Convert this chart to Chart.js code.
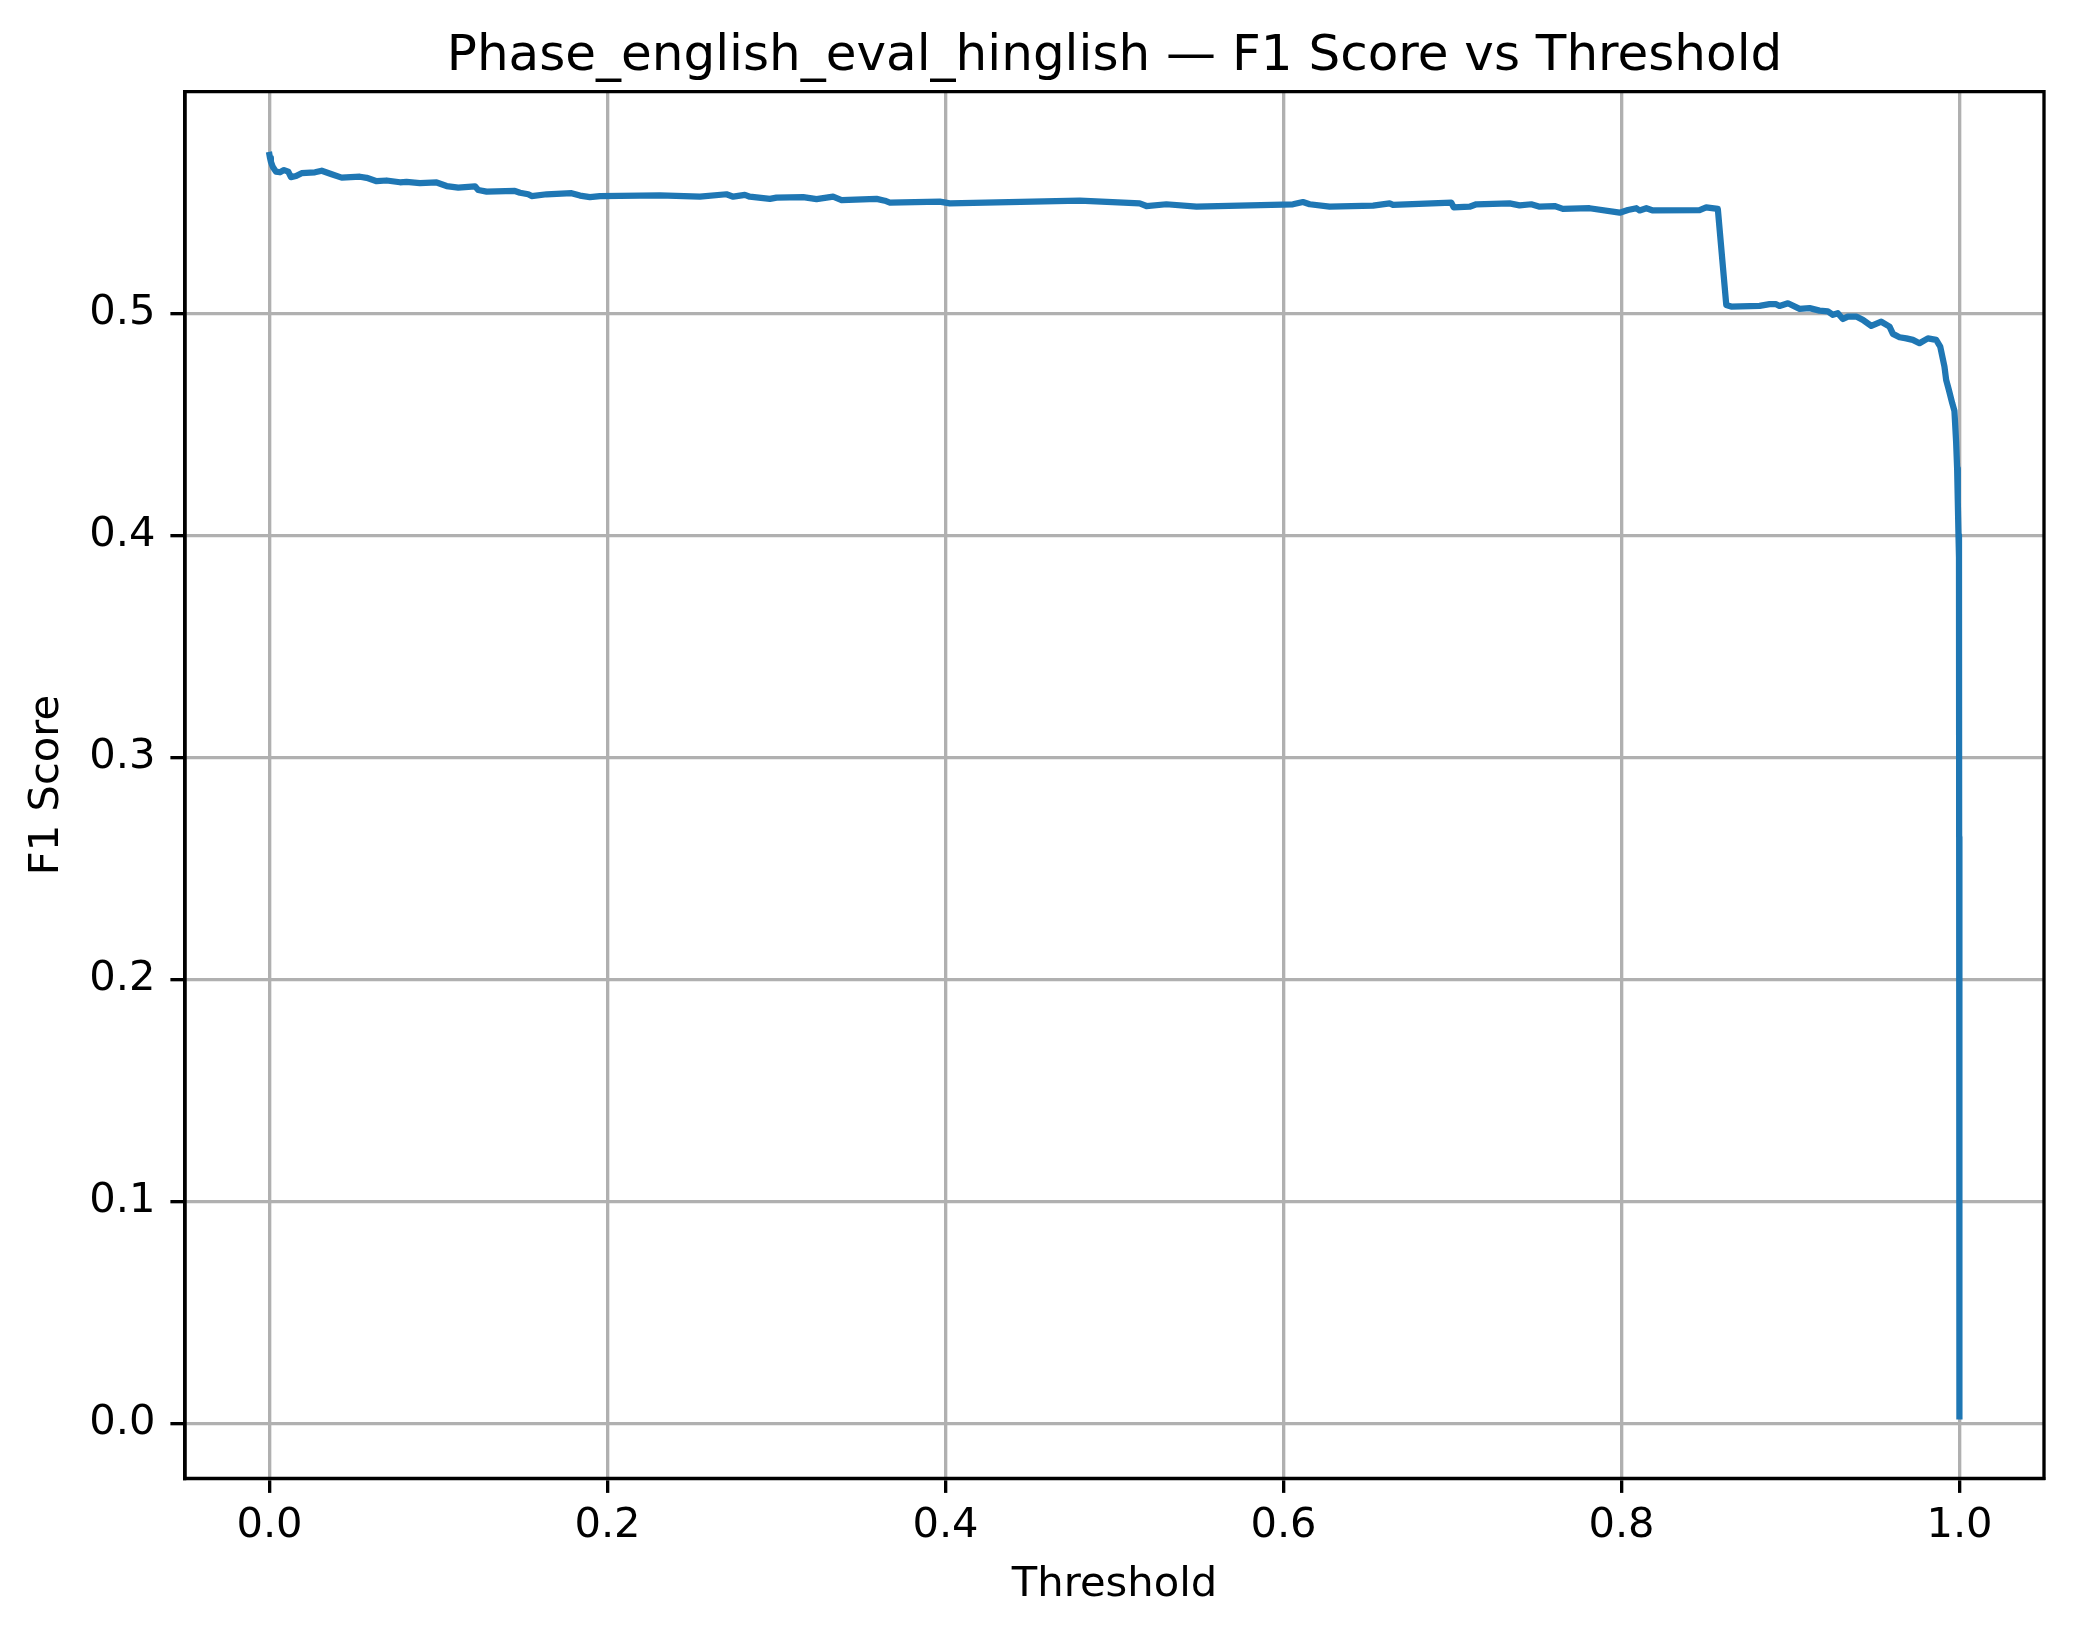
<!DOCTYPE html>
<html>
<head>
<meta charset="utf-8">
<script src="https://cdn.jsdelivr.net/npm/chart.js@4.4.1/dist/chart.umd.min.js"></script>
<style>
  html, body { margin: 0; padding: 0; background: #ffffff; }
  canvas { display: block; }
</style>
</head>
<body>
<canvas id="c" width="2074" height="1638"></canvas>
<script>
const TITLE = "Phase_english_eval_hinglish \u2014 F1 Score vs Threshold";
const X_LABEL = "Threshold";
const Y_LABEL = "F1 Score";
const X_TICKS = [0.0, 0.2, 0.4, 0.6, 0.8, 1.0];
const Y_TICKS = [0.0, 0.1, 0.2, 0.3, 0.4, 0.5];

const thresholds = [
  0.0, 0.0003, 0.0008, 0.0019, 0.0038, 0.0062, 0.0086, 0.0111, 0.0127, 0.0157,
  0.0190, 0.0269, 0.0309, 0.0368, 0.0427, 0.0535, 0.0575, 0.0634, 0.0693, 0.0772,
  0.0811, 0.0890, 0.0989, 0.1048, 0.1117, 0.1216, 0.1235, 0.1285, 0.1452, 0.1482,
  0.1531, 0.1551, 0.1640, 0.1787, 0.1837, 0.1896, 0.1955, 0.2310, 0.2547, 0.2704,
  0.2744, 0.2813, 0.2842, 0.2961, 0.3000, 0.3158, 0.3237, 0.3335, 0.3385, 0.3592,
  0.3641, 0.3671, 0.3966, 0.4025, 0.4794, 0.5149, 0.5189, 0.5307, 0.5485, 0.6056,
  0.6115, 0.6155, 0.6273, 0.6530, 0.6628, 0.6648, 0.6993, 0.7007, 0.7101, 0.7141,
  0.7338, 0.7397, 0.7466, 0.7516, 0.7604, 0.7653, 0.7811, 0.7989, 0.8038, 0.8088,
  0.8107, 0.8147, 0.8186, 0.8462, 0.8501, 0.8570, 0.8620, 0.8649, 0.8817, 0.8876,
  0.8915, 0.8935, 0.8985, 0.9054, 0.9113, 0.9172, 0.9221, 0.9251, 0.9280, 0.9310,
  0.9339, 0.9389, 0.9428, 0.9478, 0.9537, 0.9586, 0.9606, 0.9645, 0.9685, 0.9724,
  0.9763, 0.9813, 0.9862, 0.9886, 0.9911, 0.9921, 0.9937, 0.9957, 0.9970, 0.9980,
  0.9986, 0.9990, 0.9994, 0.9997, 0.9998, 0.9999, 1.0
];
const f1Scores = [
  0.5713, 0.5700, 0.5683, 0.5660, 0.5638, 0.5635, 0.5645, 0.5638, 0.5613, 0.5618,
  0.5631, 0.5635, 0.5642, 0.5626, 0.5611, 0.5615, 0.5610, 0.5595, 0.5598, 0.5590,
  0.5592, 0.5586, 0.5589, 0.5573, 0.5566, 0.5572, 0.5555, 0.5548, 0.5551, 0.5543,
  0.5536, 0.5528, 0.5536, 0.5541, 0.5530, 0.5523, 0.5528, 0.5531, 0.5525, 0.5536,
  0.5525, 0.5533, 0.5525, 0.5515, 0.5521, 0.5523, 0.5514, 0.5525, 0.5510, 0.5515,
  0.5507, 0.5498, 0.5503, 0.5495, 0.5507, 0.5495, 0.5483, 0.5491, 0.5480, 0.5491,
  0.5501, 0.5491, 0.5480, 0.5485, 0.5495, 0.5488, 0.5498, 0.5477, 0.5480, 0.5491,
  0.5495, 0.5486, 0.5491, 0.5480, 0.5483, 0.5470, 0.5473, 0.5453, 0.5465, 0.5473,
  0.5463, 0.5473, 0.5463, 0.5465, 0.5477, 0.5470, 0.5037, 0.5030, 0.5033, 0.5041,
  0.5041, 0.5033, 0.5045, 0.5020, 0.5023, 0.5012, 0.5008, 0.4993, 0.5000, 0.4974,
  0.4985, 0.4985, 0.4970, 0.4943, 0.4962, 0.4940, 0.4907, 0.4892, 0.4887, 0.4880,
  0.4865, 0.4887, 0.4880, 0.4850, 0.4760, 0.4700, 0.4655, 0.4595, 0.4560, 0.4420,
  0.4300, 0.4150, 0.4000, 0.3900, 0.2640, 0.1000, 0.0031
];

const points = thresholds.map((t, i) => ({ x: t, y: f1Scores[i] }));

const FONT = "'DejaVu Sans', 'Liberation Sans', sans-serif";
const LW = 3.33;

const frame = {
  id: 'frame',
  afterDatasetsDraw(chart) {
    const { ctx, chartArea: a } = chart;
    ctx.save();
    ctx.strokeStyle = '#000000';
    ctx.lineWidth = LW;
    ctx.lineCap = 'square';
    ctx.beginPath();
    ctx.moveTo(a.left, a.bottom);
    ctx.lineTo(a.left, a.top);
    ctx.lineTo(a.right, a.top);
    ctx.lineTo(a.right, a.bottom);
    ctx.lineTo(a.left, a.bottom);
    ctx.stroke();
    ctx.restore();
  }
};

new Chart(document.getElementById('c'), {
  type: 'line',
  data: {
    datasets: [{
      label: 'F1',
      data: points,
      borderColor: '#1f77b4',
      borderWidth: 6.25,
      pointRadius: 0,
      tension: 0,
      fill: false,
      borderJoinStyle: 'round',
      borderCapStyle: 'square'
    }]
  },
  options: {
    responsive: false,
    devicePixelRatio: 1,
    animation: false,
    layout: { padding: { left: 0, right: 30, top: 0, bottom: 0 } },
    plugins: {
      legend: { display: false },
      tooltip: { enabled: false },
      title: {
        display: true,
        fullSize: false,
        text: TITLE,
        color: '#000000',
        font: { family: FONT, size: 50, weight: 'normal', lineHeight: 1.2 },
        padding: { top: 27, bottom: 4.7 }
      }
    },
    scales: {
      x: {
        type: 'linear',
        min: -0.05,
        max: 1.05,
        afterBuildTicks(scale) { scale.ticks = X_TICKS.map(v => ({ value: v })); },
        afterFit(scale) { scale.height = 159.7; },
        ticks: {
          color: '#000000',
          font: { family: FONT, size: 41.67, lineHeight: 1.2 },
          padding: 8,
          maxRotation: 0,
          autoSkip: false,
          callback: v => v.toFixed(1)
        },
        grid: { color: '#b0b0b0', lineWidth: LW, tickColor: '#000000', tickWidth: LW, tickLength: 14.6 },
        border: { display: true, color: '#000000', width: LW },
        title: {
          display: true,
          text: X_LABEL,
          color: '#000000',
          font: { family: FONT, size: 41.67, lineHeight: 1.2 },
          padding: { top: 0, bottom: 27.4 }
        }
      },
      y: {
        type: 'linear',
        min: -0.0248,
        max: 0.5998,
        afterBuildTicks(scale) { scale.ticks = Y_TICKS.map(v => ({ value: v })); },
        afterFit(scale) { scale.width = 185; },
        ticks: {
          color: '#000000',
          font: { family: FONT, size: 41.67, lineHeight: 1.2 },
          padding: 15,
          autoSkip: false,
          callback: v => v.toFixed(1)
        },
        grid: { color: '#b0b0b0', lineWidth: LW, tickColor: '#000000', tickWidth: LW, tickLength: 14.6 },
        border: { display: true, color: '#000000', width: LW },
        title: {
          display: true,
          text: Y_LABEL,
          color: '#000000',
          font: { family: FONT, size: 41.67, lineHeight: 1.2 },
          padding: { top: 22.3, bottom: 0 }
        }
      }
    }
  },
  plugins: [frame]
});
</script>
</body>
</html>
